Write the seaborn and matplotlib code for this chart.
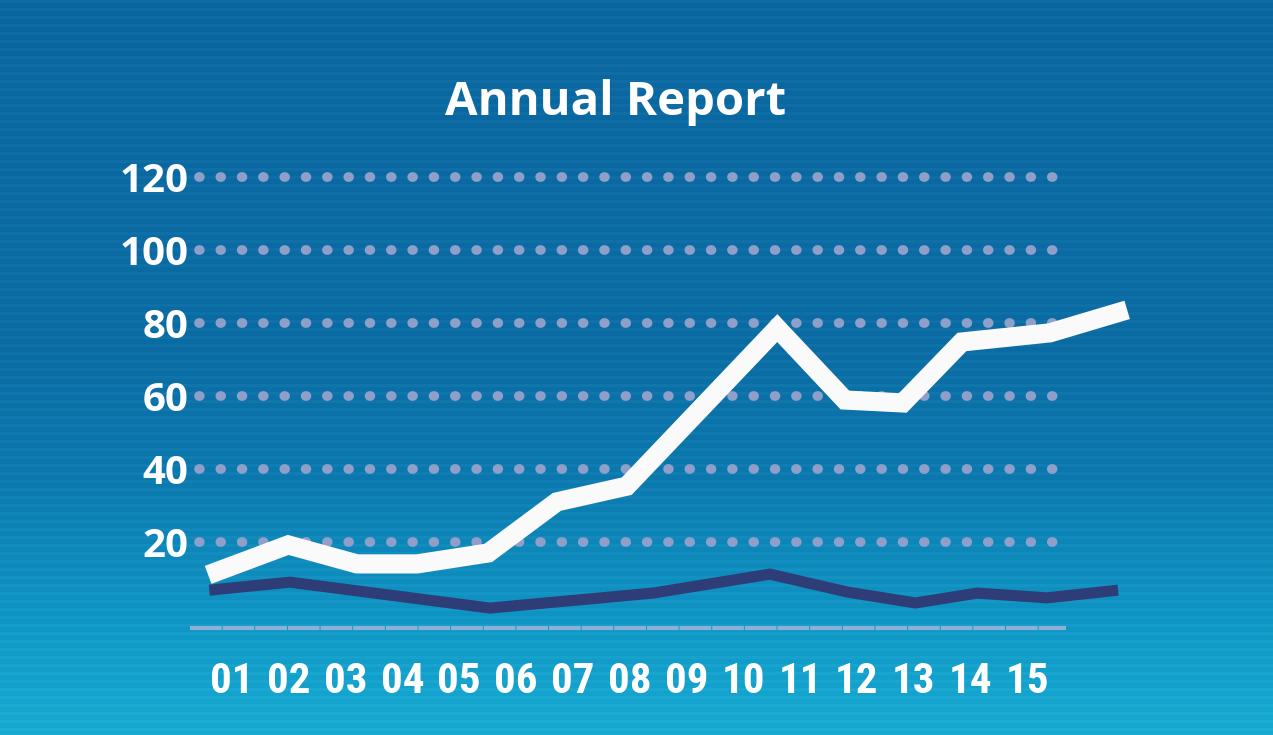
import numpy as np
import matplotlib
matplotlib.use("Agg")
import matplotlib.pyplot as plt
from matplotlib.colors import to_rgb
import seaborn as sns

# ---------------- data ----------------
months = ["01", "02", "03", "04", "05", "06", "07", "08", "09", "10",
          "11", "12", "13", "14", "15"]
month_pos = list(range(1, 16))

white_x = [0.58, 1.99, 3.20, 4.26, 5.51, 6.72, 7.95, 10.60, 11.79, 12.81,
           13.85, 15.40, 16.76]
white_y = [11.0, 19.2, 14.0, 14.0, 17.0, 31.0, 35.3, 78.6, 58.9, 58.1,
           74.8, 77.3, 83.6]

navy_x = [0.60, 2.02, 5.54, 8.41, 10.47, 11.83, 13.03, 14.12, 15.35, 16.60]
navy_y = [6.8, 9.0, 1.9, 6.0, 11.2, 6.3, 3.3, 6.0, 4.7, 6.8]

y_ticks = [20, 40, 60, 80, 100, 120]
title = "Annual Report"

# ---------------- style ----------------
sns.set_theme(style="white")
plt.rcParams["lines.scale_dashes"] = False

W, H = 1273, 735
fig = plt.figure(figsize=(W / 100, H / 100), dpi=100)

# background gradient with fine horizontal stripes
stops_y = [0, 350, 480, 620, 735]
stops_c = ["#0a669f", "#0a6ca3", "#0b79ae", "#0f96c4", "#17abd1"]
rows = np.arange(H)
cols = np.array([to_rgb(c) for c in stops_c])
grad = np.stack([np.interp(rows, stops_y, cols[:, k]) for k in range(3)], axis=1)
stripe = np.where((rows % 8) < 3, 0.022, 0.0)
grad = np.clip(grad + stripe[:, None], 0, 1)
img = np.repeat(grad[:, None, :], 4, axis=1)
bg = fig.add_axes([0, 0, 1, 1])
bg.imshow(img, aspect="auto", extent=[0, 1, 0, 1], interpolation="nearest")
bg.set_axis_off()

# main axes, placed in pixel terms
px_left, px_right, px_top, px_bottom = 190, 1140, 160, 640
ax = fig.add_axes([px_left / W, 1 - px_bottom / H,
                   (px_right - px_left) / W, (px_bottom - px_top) / H])
ax.set_facecolor("none")

def px2x(p):
    return (p - 232) / 56.8 + 1

def px2y(p):
    return (615 - p) * 20 / 73

ax.set_xlim(px2x(px_left), px2x(px_right))
ax.set_ylim(px2y(px_bottom), px2y(px_top))
for s in ax.spines.values():
    s.set_visible(False)

# dotted gridlines
for lv in y_ticks:
    ax.plot([px2x(199), px2x(1056)], [lv, lv], color="#8e9fca",
            linewidth=7.0, linestyle=(0, (0.6, 14.75)),
            dash_capstyle="round", zorder=1)

# baseline (segmented)
ax.plot([px2x(190), px2x(1066)], [px2y(628), px2y(628)], color="#8fb0d6",
        linewidth=3.0, linestyle=(0, (22.8, 0.7)), dash_capstyle="butt", zorder=1)

# series
sns.lineplot(x=navy_x, y=navy_y, ax=ax, color="#2e3d77", linewidth=8.0,
             sort=False, estimator=None, solid_joinstyle="miter",
             solid_capstyle="butt", zorder=3)
sns.lineplot(x=white_x, y=white_y, ax=ax, color="#fafafa", linewidth=13.8,
             sort=False, estimator=None, solid_joinstyle="miter",
             solid_capstyle="butt", zorder=4)

# ticks
ax.set_yticks(y_ticks)
ax.set_yticklabels([str(v) for v in y_ticks], fontfamily=["Open Sans", "DejaVu Sans"],
                   fontweight="bold", fontsize=29, color="white")
for t in ax.get_yticklabels():
    t.set_verticalalignment("center_baseline")
ax.set_xticks(month_pos)
ax.set_xticklabels(months, fontfamily=["Roboto Condensed", "DejaVu Sans"],
                   fontweight="bold", fontsize=31, color="white")
ax.tick_params(axis="y", length=0, pad=1)
ax.tick_params(axis="x", length=0, pad=15)
ax.set_xlabel("")
ax.set_ylabel("")
ax.grid(False)

fig.text(616 / W, 1 - 115 / H, title, ha="center", va="baseline",
         fontfamily=["Open Sans", "DejaVu Sans"], fontweight="bold",
         fontsize=34, color="white")

fig.savefig("out.png", dpi=100)
